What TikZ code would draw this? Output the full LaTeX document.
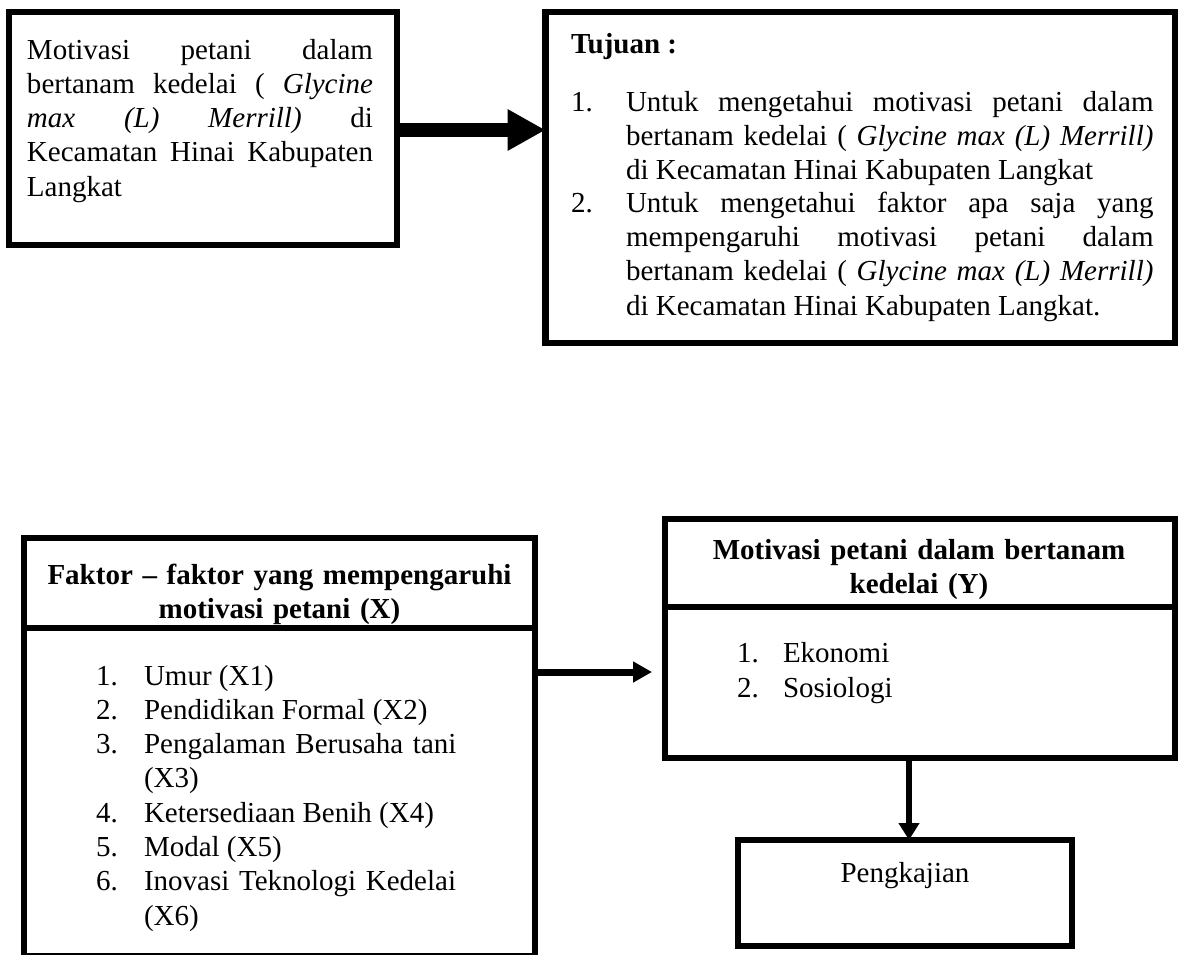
\documentclass[tikz,border=0pt]{standalone}
\usepackage{fontspec}
\setmainfont{Liberation Serif}
\usetikzlibrary{arrows.meta}
\tolerance=10000
\hyphenpenalty=10000
\begin{document}
\begin{tikzpicture}[x=1pt,y=-1pt,
  box/.style={draw, line width=6.5pt, inner sep=0pt, outer sep=0pt},
  divline/.style={line width=6pt},
  txt/.style={inner sep=0pt, outer sep=0pt, font=\fontsize{29}{34.3}\selectfont},
  lbl/.style={txt, anchor=base west},
  partext/.style={txt, anchor=base west, align=justify},
  ctext/.style={txt, anchor=base, align=center},
  bigarrow/.style={line width=14pt, -{Triangle[length=38pt,width=39pt]}},
  thinarrow/.style={line width=7pt, -{Triangle[length=19pt,width=20pt]}},
  downarrow/.style={line width=6pt, -{Triangle[length=17pt,width=20pt]}}
]
\useasboundingbox (0,0) rectangle (1182,954);

% boxes
\node[box, minimum width=388, minimum height=233] (b1) at (203,128.5) {};
\node[box, minimum width=629.5, minimum height=331] (b2) at (860.25,177.5) {};
\node[box, minimum width=511, minimum height=418] (b3) at (279.5,747) {};
\node[box, minimum width=510, minimum height=239] (b4) at (920,638.5) {};
\node[box, minimum width=334, minimum height=106] (pk) at (905,893) {};

% dividers
\coordinate (d3) at (0,628);
\draw[divline] (b3.west |- d3) -- (b3.east |- d3);
\coordinate (d4) at (0,607);
\draw[divline] (b4.west |- d4) -- (b4.east |- d4);

% box 1 text
\node[partext, text width=346] (t1) at (27,59) {Motivasi petani dalam\linebreak bertanam kedelai ( \textit{Glycine}\linebreak \textit{max (L) Merrill)} di\linebreak Kecamatan Hinai Kabupaten\linebreak Langkat};

% box 2 text
\node[lbl] (tj) at (571,53) {\bfseries Tujuan :};
\node[lbl] (n1) at (571,111) {1.};
\node[partext, text width=527.5] (i1) at (626,111) {Untuk mengetahui motivasi petani dalam\linebreak bertanam kedelai ( \textit{Glycine max (L) Merrill)}\linebreak di Kecamatan Hinai Kabupaten Langkat};
\node[lbl] (n2) at (571,212.1) {2.};
\node[partext, text width=527.5] (i2) at (626,212.1) {Untuk mengetahui faktor apa saja yang\linebreak mempengaruhi motivasi petani dalam\linebreak bertanam kedelai ( \textit{Glycine max (L) Merrill)}\linebreak di Kecamatan Hinai Kabupaten Langkat.};

% box 3 text
\node[ctext, text width=500] (h3) at (279.5,584) {\bfseries Faktor – faktor yang mempengaruhi\\motivasi petani (X)};
\node[lbl] (x1n) at (96,685) {1.};
\node[lbl] (x1) at (144,685) {Umur (X1)};
\node[lbl] (x2n) at (96,719.3) {2.};
\node[lbl] (x2) at (144,719.3) {Pendidikan Formal (X2)};
\node[lbl] (x3n) at (96,753.6) {3.};
\node[lbl, text width=340, align=left] (x3) at (144,753.6) {Pengalaman Berusaha tani\\(X3)};
\node[lbl] (x4n) at (96,822.2) {4.};
\node[lbl] (x4) at (144,822.2) {Ketersediaan Benih (X4)};
\node[lbl] (x5n) at (96,856.5) {5.};
\node[lbl] (x5) at (144,856.5) {Modal (X5)};
\node[lbl] (x6n) at (96,890.8) {6.};
\node[lbl, text width=340, align=left] (x6) at (144,890.8) {Inovasi Teknologi Kedelai\\(X6)};

% box 4 text
\node[ctext, text width=480] (h4) at (919,559.5) {\bfseries Motivasi petani dalam bertanam\\kedelai (Y)};
\node[lbl] (y1n) at (737,662.5) {1.};
\node[lbl] (y1) at (783,662.5) {Ekonomi};
\node[lbl] (y2n) at (737,697) {2.};
\node[lbl] (y2) at (783,697) {Sosiologi};

% pengkajian text
\node[ctext] (pt) at (905,882) {Pengkajian};

% arrows
\coordinate (a1) at (0,130);
\draw[bigarrow] (b1.east |- a1) -- (b2.west |- a1);
\coordinate (a2) at (652,672);
\draw[thinarrow] (b3.east |- a2) -- (a2);
\coordinate (a3) at (909,0);
\draw[downarrow] (b4.south -| a3) -- (pk.north -| a3);
\end{tikzpicture}
\end{document}
